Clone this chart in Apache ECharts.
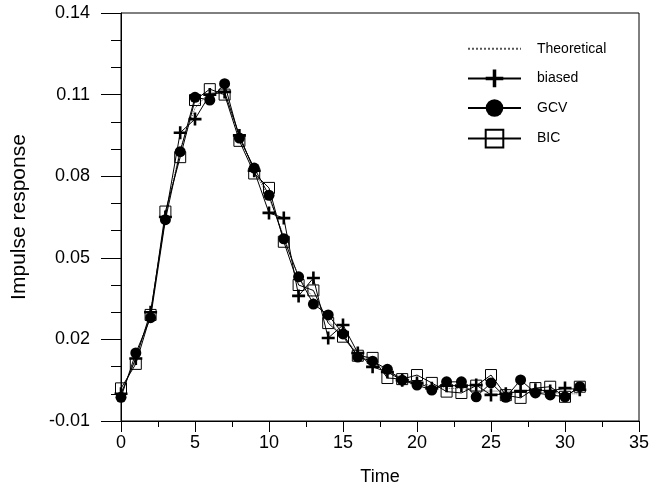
<!DOCTYPE html>
<html>
<head>
<meta charset="utf-8">
<script src="https://cdn.jsdelivr.net/npm/echarts@6/dist/echarts.min.js"></script>
<style>
  html, body { margin: 0; padding: 0; background: #fff; }
  #chart { width: 654px; height: 497px; }
</style>
</head>
<body>
<div id="chart"></div>
<script>
  const times = [0, 1, 2, 3, 4, 5, 6, 7, 8, 9, 10, 11, 12, 13, 14, 15,
    16, 17, 18, 19, 20, 21, 22, 23, 24, 25, 26, 27, 28, 29, 30, 31];

  const theoretical = [0, 0.013, 0.030, 0.065, 0.090, 0.105, 0.111, 0.110, 0.095, 0.082,
    0.072, 0.058, 0.043, 0.035, 0.027, 0.021, 0.015, 0.012, 0.008, 0.006,
    0.004, 0.003, 0.002, 0.002, 0.001, 0.001, 0.001, 0.0005, 0.0005, 0.0005, 0, 0];

  const biased = [0, 0.013, 0.030, 0.065, 0.096, 0.101, 0.110, 0.111, 0.095, 0.082,
    0.0665, 0.0646, 0.036, 0.0426, 0.0205, 0.0253, 0.015, 0.0099, 0.008, 0.005,
    0.004, 0.002, 0.003, 0.003, 0.0032, -0.0004, 0, 0.001, 0.0015, 0.001, 0.0021, 0.0015];

  const gcv = [-0.0013, 0.015, 0.028, 0.064, 0.089, 0.109, 0.108, 0.114, 0.094, 0.083,
    0.073, 0.057, 0.043, 0.033, 0.029, 0.022, 0.0135, 0.012, 0.009, 0.005,
    0.0032, 0.0014, 0.0044, 0.0044, -0.0011, 0.004, -0.0013, 0.0051, 0.0003, -0.0004, -0.0011, 0.0026];

  const bic = [0.002, 0.011, 0.029, 0.067, 0.087, 0.108, 0.112, 0.110, 0.093, 0.081,
    0.0757, 0.0559, 0.040, 0.038, 0.026, 0.021, 0.014, 0.0132, 0.0058, 0.0054,
    0.0069, 0.004, 0.0008, 0.0003, 0.003, 0.0069, -0.0005, -0.0015, 0.0021, 0.0026, -0.0011, 0.0026];

  const font = 'Liberation Sans, Arial, sans-serif';
  const plusPath = 'path://M4,0H6V4H10V6H6V10H4V6H0V4H4Z';

  const pairs = (values) => times.map((t, i) => [t, values[i]]);

  // labels only every third tick: -0.01, 0.02, 0.05 ...
  function yLabel(v) {
    const k = Math.round((v + 0.01) * 100);
    return k % 3 === 0 ? v.toFixed(2) : '';
  }

  const chart = echarts.init(document.getElementById('chart'));

  chart.setOption({
    animation: false,
    backgroundColor: '#fff',
    grid: {
      left: 121, right: 15, top: 13, bottom: 76,
      show: true, borderColor: '#000', borderWidth: 1
    },
    legend: {
      orient: 'vertical',
      left: 462,
      top: 35,
      itemWidth: 53,
      itemHeight: 22,
      itemGap: 12,
      data: [
        { name: 'Theoretical', itemStyle: { color: 'rgba(0,0,0,0)', borderColor: 'rgba(0,0,0,0)', borderWidth: 0 } },
        'biased', 'GCV', 'BIC'
      ],
      textStyle: { fontFamily: font, fontSize: 14, color: '#000', padding: [0, 0, 0, 11] }
    },
    xAxis: [
      {
        type: 'value',
        min: 0, max: 35, interval: 5,
        name: 'Time',
        nameLocation: 'middle',
        nameGap: 47,
        nameTextStyle: { fontFamily: font, fontSize: 18, color: '#000' },
        axisLine: { onZero: false, lineStyle: { color: '#000', width: 1 } },
        axisTick: { show: true, length: 11, lineStyle: { color: '#000' } },
        minorTick: { show: true, splitNumber: 2, length: 6, lineStyle: { color: '#000' } },
        axisLabel: { fontFamily: font, fontSize: 18, color: '#000', margin: 13 },
        splitLine: { show: false }
      }
    ],
    yAxis: [
      {
        type: 'value',
        min: -0.01, max: 0.14, interval: 0.01,
        name: 'Impulse response',
        nameLocation: 'middle',
        nameGap: 91,
        nameTextStyle: { fontFamily: font, fontSize: 21, color: '#000' },
        axisLine: { show: true, onZero: false, lineStyle: { color: '#000', width: 1 } },
        axisTick: { show: true, length: 10, lineStyle: { color: '#000' } },
        axisLabel: {
          fontFamily: font, fontSize: 18, color: '#000', margin: 31,
          formatter: yLabel
        },
        splitLine: { show: false }
      },
      {
        // long ticks at the labelled values (same pixel span, shifted by 0.01)
        type: 'value',
        position: 'left',
        min: 0, max: 0.15, interval: 0.03,
        axisLine: { show: false, onZero: false },
        axisTick: { show: true, length: 20, lineStyle: { color: '#000' } },
        axisLabel: { show: false },
        splitLine: { show: false }
      }
    ],
    series: [
      {
        name: 'Theoretical',
        type: 'line',
        data: pairs(theoretical),
        symbol: 'none',
        lineStyle: { color: '#555', width: 1, type: 'dotted' },
        itemStyle: { color: '#555' },
        z: 1
      },
      {
        name: 'biased',
        type: 'line',
        data: pairs(biased),
        symbol: plusPath,
        symbolSize: 13,
        lineStyle: { color: '#000', width: 1 },
        itemStyle: { color: '#000' },
        z: 2
      },
      {
        name: 'GCV',
        type: 'line',
        data: pairs(gcv),
        symbol: 'circle',
        symbolSize: 11,
        lineStyle: { color: '#000', width: 1 },
        itemStyle: { color: '#000' },
        z: 3
      },
      {
        name: 'BIC',
        type: 'line',
        data: pairs(bic),
        symbol: 'rect',
        symbolSize: 11,
        lineStyle: { color: '#000', width: 1 },
        itemStyle: { color: 'rgba(255,255,255,0)', borderColor: '#000', borderWidth: 1 },
        z: 4
      }
    ]
  });
</script>
</body>
</html>
